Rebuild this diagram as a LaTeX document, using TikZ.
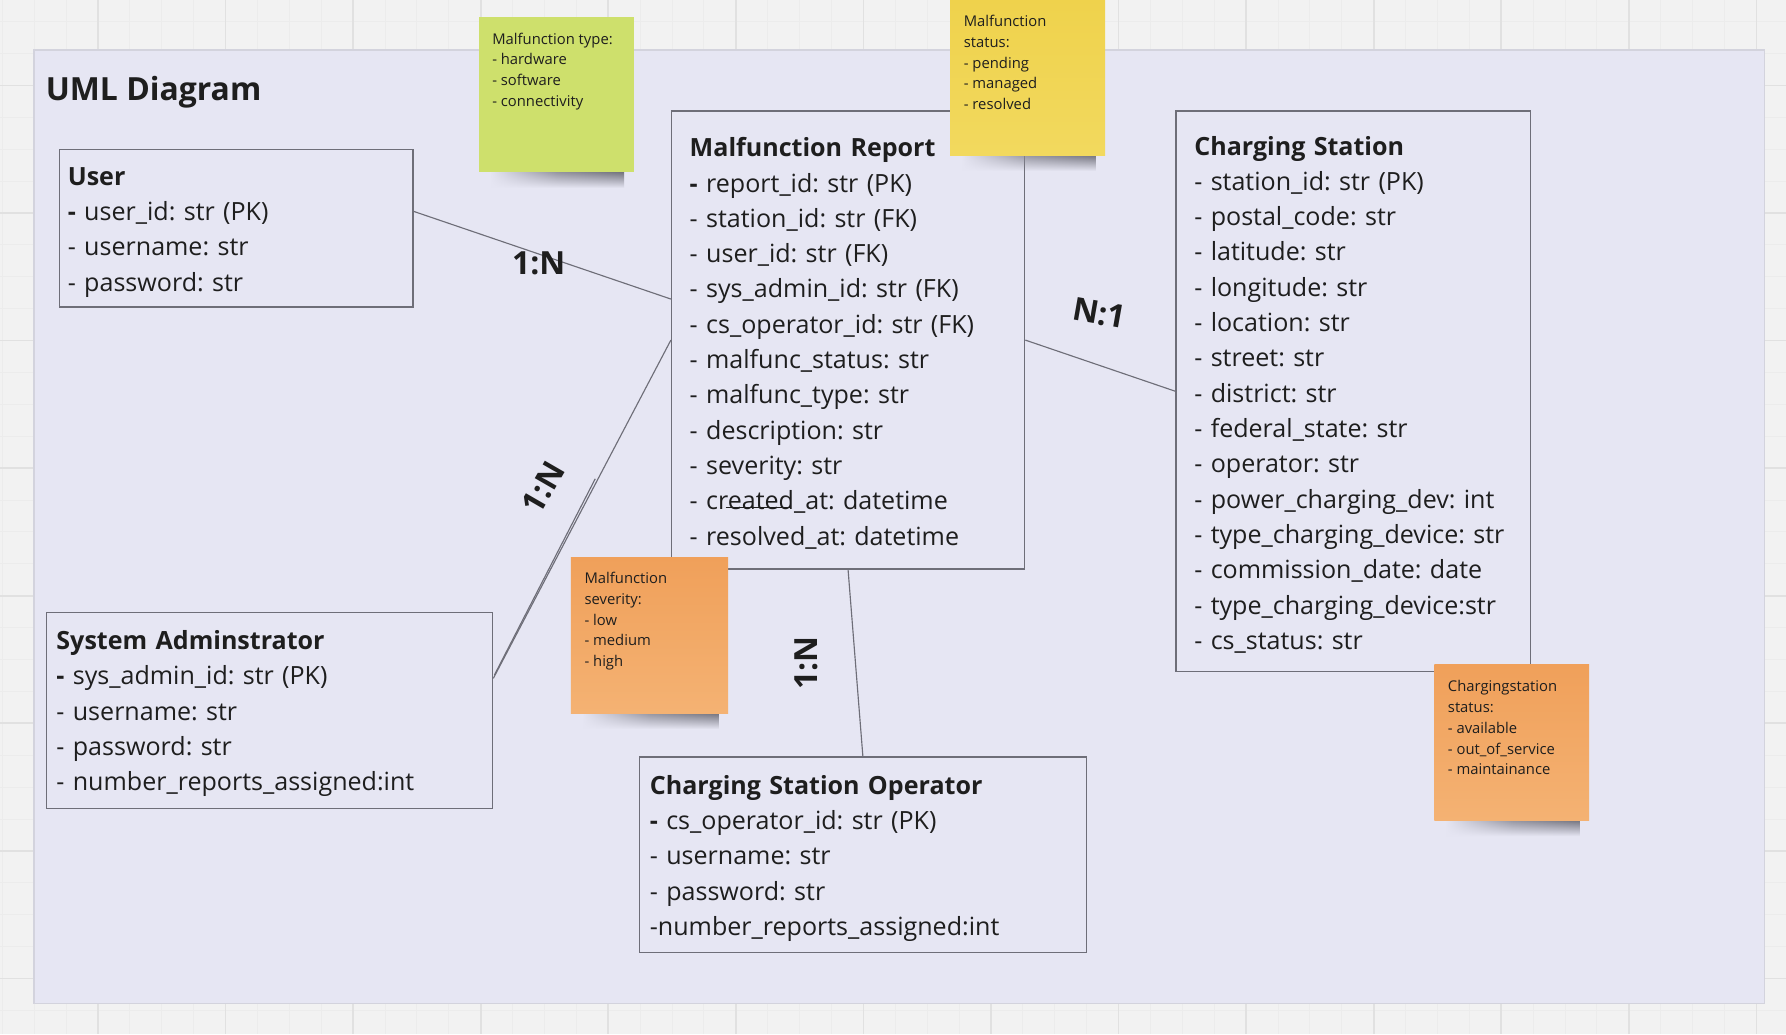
\documentclass[tikz,border=0pt]{standalone}
\usepackage{fontspec}
\setmainfont{Open Sans}
\usetikzlibrary{calc,fadings}
\frenchspacing
\definecolor{pagebg}{HTML}{F2F2F2}
\definecolor{gridminor}{HTML}{ECECEC}
\definecolor{gridmajor}{HTML}{E1E1E1}
\definecolor{panelfill}{HTML}{E6E6F3}
\definecolor{paneledge}{HTML}{D3D3DD}
\definecolor{boxedge}{HTML}{6E6E78}
\definecolor{ink}{HTML}{1E1E1E}
\definecolor{shadowgray}{HTML}{55555F}
\definecolor{stickgreen}{HTML}{CEE06C}
\definecolor{stickyellowtop}{HTML}{EFD24C}
\definecolor{stickyellowbot}{HTML}{F2D95E}
\definecolor{stickorangetop}{HTML}{F0A05A}
\definecolor{stickorangebot}{HTML}{F4B273}
\tikzfading[name=shadowfade, top color=transparent!15, bottom color=transparent!100]
\newcommand{\firstpad}{\rule{0pt}{22.5pt}}
\begin{document}
\begin{tikzpicture}[x=1pt,y=-1pt,
  umlbox/.style={draw=boxedge, line width=1.1pt, anchor=north west, align=left,
    text=ink, font=\fontsize{22}{31}\selectfont, inner ysep=0pt},
  connector/.style={draw=boxedge, line width=1pt},
  cardlabel/.style={font=\bfseries\fontsize{28}{30}\selectfont, text=ink, inner sep=1pt},
  stickytext/.style={font=\fontsize{13}{18.3}\selectfont, text=ink, anchor=north west,
    align=left, inner sep=0pt},
  stickynote/.style={anchor=north west, inner sep=0pt},
  stickyshadow/.style={left color=panelfill, right color=shadowgray, middle color=shadowgray!70!panelfill, path fading=shadowfade}
]
\useasboundingbox (0,0) rectangle (1568,908);
\fill[pagebg] (0,0) rectangle (1568,908);
% grid
\foreach \gx in {2,30,...,1568} \draw[gridminor, line width=0.8pt] (\gx,0) -- (\gx,908);
\foreach \gy in {19,47,...,908} \draw[gridminor, line width=0.8pt] (0,\gy) -- (1568,\gy);
\foreach \gx in {86,198,...,1568} \draw[gridmajor, line width=1.5pt] (\gx,0) -- (\gx,908);
\foreach \gy in {75,187,...,908} \draw[gridmajor, line width=1.5pt] (0,\gy) -- (1568,\gy);
% panel
\fill[panelfill] (30,44) rectangle (1549,881);
\draw[paneledge, line width=1.3pt] (30,44) rectangle (1549,881);
\node[anchor=base west, font=\bfseries\fontsize{28}{30}\selectfont, text=ink, inner sep=0pt]
  (title) at (40,88) {UML Diagram};

% boxes
\node[umlbox, inner xsep=7pt, minimum width=310pt, minimum height=138pt, text width=296pt]
  (user) at (52,131) {\firstpad\textbf{User}\\
  \textbf{-} user\_id: str (PK)\\
  - username: str\\
  - password: str};

\node[umlbox, inner xsep=16pt, minimum width=310pt, minimum height=402pt, text width=278pt]
  (mr) at (589,97) {\firstpad\textbf{Malfunction Report}\\
  \textbf{-} report\_id: str (PK)\\
  - station\_id: str (FK)\\
  - user\_id: str (FK)\\
  - sys\_admin\_id: str (FK)\\
  - cs\_operator\_id: str (FK)\\
  - malfunc\_status: str\\
  - malfunc\_type: str\\
  - description: str\\
  - severity: str\\
  - created\_at: datetime\\
  - resolved\_at: datetime};

\node[umlbox, inner xsep=16pt, minimum width=311pt, minimum height=492pt, text width=279pt]
  (cs) at (1032,97) {\firstpad\textbf{Charging Station}\\
  - station\_id: str (PK)\\
  - postal\_code: str\\
  - latitude: str\\
  - longitude: str\\
  - location: str\\
  - street: str\\
  - district: str\\
  - federal\_state: str\\
  - operator: str\\
  - power\_charging\_dev: int\\
  - type\_charging\_device: str\\
  - commission\_date: date\\
  - type\_charging\_device:str\\
  - cs\_status: str};

\node[umlbox, inner xsep=9pt, minimum width=392pt, minimum height=172pt, text width=374pt]
  (sa) at (40,537) {\firstpad\textbf{System Adminstrator}\\
  \textbf{-} sys\_admin\_id: str (PK)\\
  - username: str\\
  - password: str\\
  - number\_reports\_assigned:int};

\node[umlbox, inner xsep=9pt, minimum width=392pt, minimum height=172pt, text width=374pt]
  (cso) at (561,664) {\firstpad\textbf{Charging Station Operator}\\
  \textbf{-} cs\_operator\_id: str (PK)\\
  - username: str\\
  - password: str\\
  -number\_reports\_assigned:int};

% stray underline in created_at
\draw[ink, line width=1.1pt] (637,445.5) -- (694,445.5);

% connectors
\coordinate (userend) at ([yshift=15pt]user.east);
\coordinate (mrin) at ([yshift=36pt]mr.west);
\coordinate (saend) at ([yshift=28pt]sa.east);
\draw[connector] (userend) -- (mrin);
\draw[connector] (mr.west) -- (saend);
\coordinate (sadbl) at ($(mr.west)!0.41!(saend)+(-2.5,0)$);
\draw[connector] (sadbl) -- ($(saend)+(1,-3)$);
\draw[connector] (mr.east) -- (cs.west);
\draw[connector] (mr.south) -- (cso.north);

% cardinality labels
\node[cardlabel] (lbluser) at (473,231) {1:N};
\node[cardlabel, rotate=60] (lblsa) at (477,428) {1:N};
\node[cardlabel, rotate=-10] (lblcs) at (965,275) {N:1};
\node[cardlabel, rotate=90] (lblcso) at (708,582) {1:N};

% sticky notes
\shade[stickyshadow] (430,150) rectangle (548,165);
\node[stickynote, fill=stickgreen, minimum width=136pt, minimum height=136pt] (stype) at (420,15) {};
\node[stickytext] (stypetext) at (432,28.5) {Malfunction type:\\- hardware\\- software\\- connectivity};

\shade[stickyshadow] (844,135) rectangle (962,150);
\node[stickynote, top color=stickyellowtop, bottom color=stickyellowbot, minimum width=136pt, minimum height=137pt] (sstatus) at (834,-1) {};
\node[stickytext] (sstatustext) at (846,13) {Malfunction\\status:\\- pending\\- managed\\- resolved};

\shade[stickyshadow] (511,625) rectangle (631,640);
\node[stickynote, top color=stickorangetop, bottom color=stickorangebot, minimum width=138pt, minimum height=137pt] (ssev) at (501,489) {};
\node[stickytext] (ssevtext) at (513,502) {Malfunction\\severity:\\- low\\- medium\\- high};

\shade[stickyshadow] (1269,719) rectangle (1387,734);
\node[stickynote, top color=stickorangetop, bottom color=stickorangebot, minimum width=136pt, minimum height=137pt] (scs) at (1259,583) {};
\node[stickytext] (scstext) at (1271,597) {Chargingstation\\status:\\- available\\- out\_of\_service\\- maintainance};
\end{tikzpicture}
\end{document}
